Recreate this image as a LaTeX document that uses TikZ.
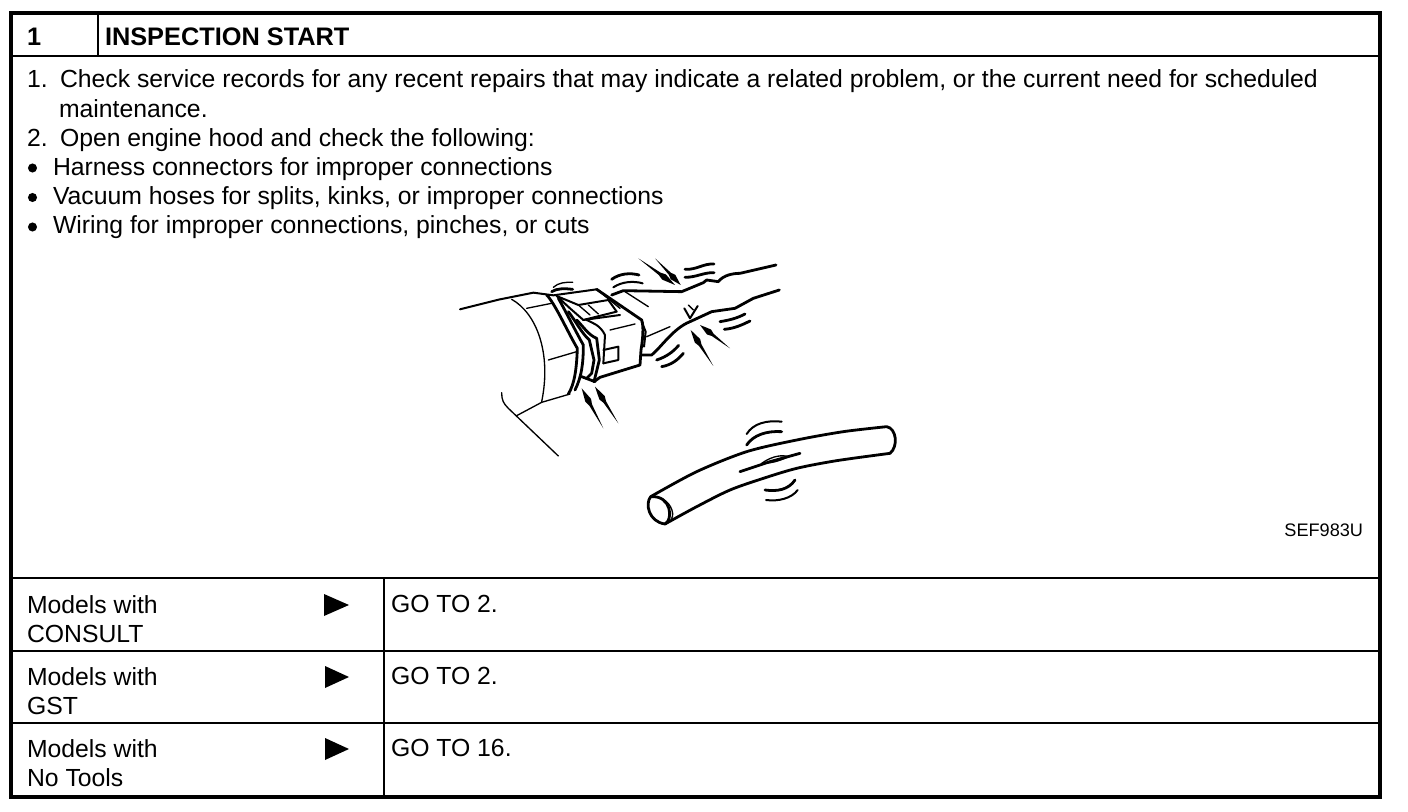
\documentclass[tikz,border=0pt]{standalone}
\usepackage{fontspec}
\setmainfont{Liberation Sans}
\usetikzlibrary{calc}
\tikzset{
 txt/.style={anchor=base west,inner sep=0pt,outer sep=0pt,font=\fontsize{18.57}{22}\selectfont},
 head/.style={anchor=base west,inner sep=0pt,outer sep=0pt,font=\fontsize{19}{22}\selectfont\bfseries},
 small/.style={anchor=base east,inner sep=0pt,outer sep=0pt,font=\fontsize{13.6}{15}\selectfont},
 frameline/.style={line width=3pt,black},
 rule/.style={line width=1.5pt,black},
 ill/.style={line width=1pt,black,line cap=round,line join=round},
 illb/.style={line width=2.1pt,black,line cap=round,line join=round},
 illc/.style={line width=1.5pt,black,line cap=round,line join=round},
 goarrow/.style={fill=black,draw=none}
}
\newcommand{\spike}[2]{\fill[black] (#1) -- ($(#2)!.42!(#1)!1.1pt!90:(#2)$) -- ($(#2)!.3!(#1)!2.4pt!90:(#2)$) -- (#2) -- ($(#2)!.3!(#1)!2.4pt!-90:(#2)$) -- ($(#2)!.42!(#1)!1.1pt!-90:(#2)$) -- cycle;}
\begin{document}
\begin{tikzpicture}[x=0.75pt,y=-0.75pt]
\useasboundingbox (0,0) rectangle (1408,812);
\fill[white] (0,0) rectangle (1408,812);
% table
\draw[frameline] (10.5,13.5) rectangle (1380,797);
\draw[rule] (10.5,56.5) -- (1380,56.5);
\draw[rule] (98,13.5) -- (98,56.5);
\draw[rule] (10.5,578) -- (1380,578);
\draw[line width=2pt] (10.5,651) -- (1380,651);
\draw[rule] (10.5,723) -- (1380,723);
\draw[rule] (384,578) -- (384,797);
% header
\node[head] (n1) at (27,46) {1};
\node[head] (title) at (105,46) {INSPECTION START};
% body
\node[txt] (l1a) at (27,88) {1.};
\node[txt] (l1) at (60,88) {Check service records for any recent repairs that may indicate a related problem, or the current need for scheduled};
\node[txt] (l2) at (59,118) {maintenance.};
\node[txt] (l3a) at (27,147) {2.};
\node[txt] (l3) at (60,147) {Open engine hood and check the following:};
\fill (32.5,168) circle (3.4pt) (32.5,197.5) circle (3.4pt) (32.5,227) circle (3.4pt);
\node[txt] (l4) at (53,176) {Harness connectors for improper connections};
\node[txt] (l5) at (53,205) {Vacuum hoses for splits, kinks, or improper connections};
\node[txt] (l6) at (53,234) {Wiring for improper connections, pinches, or cuts};
\node[small] (ref) at (1363,536) {SEF983U};
% rows
\node[txt] (a1) at (27,613) {Models with};
\node[txt] (a2) at (27,642) {CONSULT};
\node[txt] (b1) at (27,685) {Models with};
\node[txt] (b2) at (27,714) {GST};
\node[txt] (c1) at (27,757) {Models with};
\node[txt] (c2) at (27,786) {No Tools};
\node[txt] (ga) at (391,612) {GO TO 2.};
\node[txt] (gb) at (391,684) {GO TO 2.};
\node[txt] (gc) at (391,756) {GO TO 16.};
\fill[goarrow] (324,594) -- (349,605) -- (324,616) -- cycle;
\fill[goarrow] (325,666) -- (349,677) -- (325,688) -- cycle;
\fill[goarrow] (325,738) -- (349,749) -- (325,760) -- cycle;
% connector illustration
\begin{scope}[shift={(440,240)},x=0.25pt,y=-0.25pt]
\draw[illc] (60,208) -- (180,178) -- (280,158) -- (340,166) -- (470,148);
\draw[ill] (215,178) .. controls (290,220) and (335,340) .. (305,485);
\draw[ill] (260,205) -- (335,190);
\draw[ill] (325,360) -- (410,335);
\draw[ill] (230,527) -- (305,487) -- (390,462);
\draw[ill] (185,458) .. controls (185,480) and (190,490) .. (205,505) -- (355,648);
% bands
\draw[illb] (320,165) .. controls (345,190) and (385,280) .. (412,325) .. controls (410,380) and (405,430) .. (385,462);
\draw[illb] (355,175) .. controls (375,210) and (410,280) .. (430,315) .. controls (430,370) and (425,410) .. (405,450);
\draw[illb] (385,215) .. controls (405,240) and (425,280) .. (448,300) -- (462,360) -- (455,400) -- (440,415);
\draw[illb] (410,240) .. controls (430,260) and (445,285) .. (470,295) -- (478,360) -- (462,425);
\draw[illc] (440,240) .. controls (460,250) and (480,255) .. (495,285) -- (490,370);
\draw[illb] (425,410) -- (465,425);
% body
\draw[illb] (470,148) -- (605,240) .. controls (612,260) and (608,300) .. (603,330) -- (600,375) -- (480,412) -- (462,425);
\draw[illc] (605,245) -- (617,275) -- (612,320);
\draw[ill] (510,270) -- (585,252);
\draw[illc] (490,330) -- (535,320) -- (535,360) -- (490,370);
% latch
\draw[illc] (350,168) -- (415,195) -- (505,180) -- (530,215) -- (430,240) -- (390,205) -- cycle;
\draw[ill] (415,195) -- (450,225) (445,195) -- (475,222) (470,148) -- (540,205);
\draw[illc] (430,240) -- (540,225);
% wires
\draw[illb] (515,165) -- (550,152) -- (725,155) -- (790,128) -- (800,120) -- (835,125) .. controls (850,105) and (880,100) .. (900,100) -- (1008,75);
\draw[ill] (555,155) -- (625,200);
\draw[ill] (620,290) -- (690,260);
\draw[illb] (603,345) -- (635,345) .. controls (665,320) and (700,265) .. (750,245) -- (815,215) -- (850,210) -- (885,205) -- (940,175) -- (1018,150);
% wiggles
\draw[illb] (335,155) .. controls (350,145) and (375,145) .. (398,148);
\draw[ill] (340,142) .. controls (355,128) and (375,126) .. (398,127);
\draw[illb] (515,118) .. controls (540,100) and (570,98) .. (597,105);
\draw[illc] (520,142) .. controls (545,125) and (580,122) .. (608,130);
\draw[illb] (735,88) .. controls (770,90) and (790,70) .. (822,72);
\draw[illb] (735,112) .. controls (770,112) and (790,97) .. (822,98);
\draw[illb] (840,245) .. controls (870,240) and (890,235) .. (915,222);
\draw[illb] (853,268) .. controls (885,265) and (905,255) .. (930,243);
\draw[illb] (650,360) .. controls (680,350) and (700,335) .. (716,316);
\draw[illb] (665,380) .. controls (695,375) and (715,358) .. (730,340);
\draw[illc] (733,205) -- (750,235) -- (773,198);
\draw[ill] (745,195) -- (760,210);
\spike{595,55}{705,135}
\spike{645,55}{722,135}
\spike{490,565}{425,445}
\spike{535,550}{465,440}
\spike{820,378}{752,270}
\spike{870,325}{780,255}
\end{scope}
% hose illustration
\begin{scope}[shift={(630,410)},x=0.25pt,y=-0.25pt]
\draw[illb] plot[smooth] coordinates {(62,260) (200,185) (350,125) (500,90) (640,65) (770,50)} .. controls (800,55) and (805,110) .. (780,130);
\draw[illb] plot[smooth] coordinates {(105,342) (200,290) (300,240) (400,205) (500,175) (620,152) (780,130)};
\draw[illb] (62,260) .. controls (45,280) and (55,335) .. (105,342) .. controls (130,330) and (125,255) .. (62,260);
\draw[ill] (85,262) .. controls (120,270) and (135,310) .. (125,325);
\draw[illb] (330,185) -- (420,155) -- (510,130);
\draw[ill] (395,160) .. controls (430,135) and (460,135) .. (475,140) .. controls (445,155) and (420,160) .. (395,160);
\draw[illc] (350,72) .. controls (370,40) and (410,30) .. (455,35);
\draw[illb] (350,105) .. controls (370,75) and (410,62) .. (455,65);
\draw[illb] (405,240) .. controls (440,245) and (475,240) .. (495,210);
\draw[illc] (408,270) .. controls (445,275) and (485,265) .. (503,240);
\end{scope}
\end{tikzpicture}
\end{document}
